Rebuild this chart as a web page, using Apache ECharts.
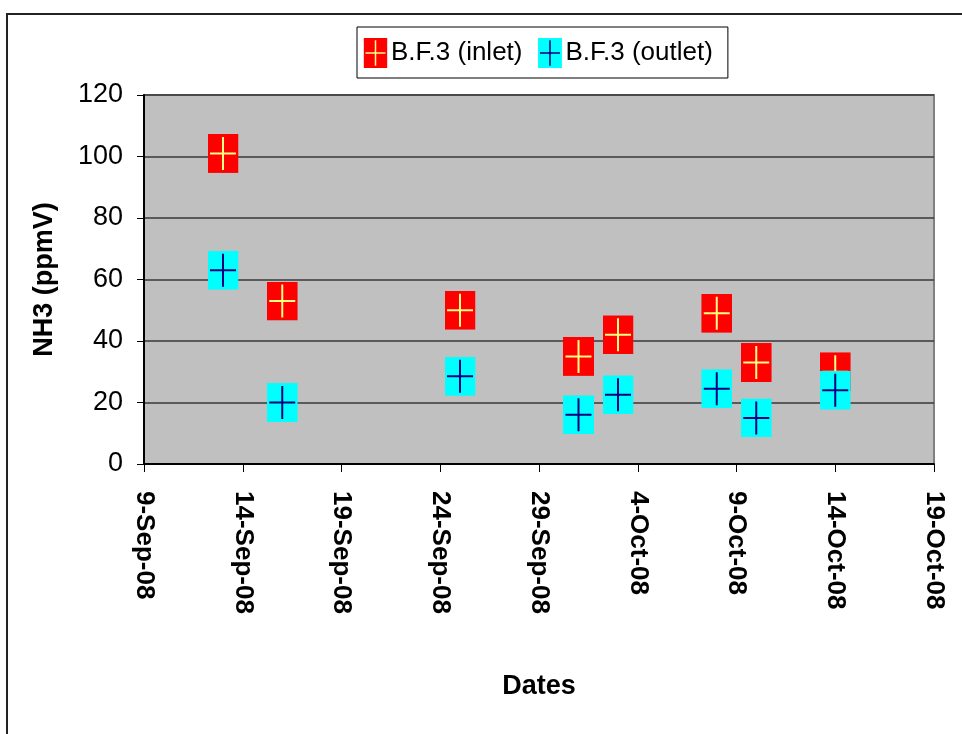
<!DOCTYPE html>
<html>
<head>
<meta charset="utf-8">
<title>NH3 B.F.3</title>
<script src="https://cdn.jsdelivr.net/npm/echarts@6/dist/echarts.min.js"></script>
<style>
  html, body { margin: 0; padding: 0; background: #fff; }
  #chart { width: 962px; height: 734px; }
</style>
</head>
<body>
<div id="chart"></div>
<script>
// Sampling dates and NH3 readings (ppmV)
const sampleDates = ['2008-09-13', '2008-09-16', '2008-09-25', '2008-10-01', '2008-10-03', '2008-10-08', '2008-10-10', '2008-10-14'];
const inletValues = [101, 53, 50, 35, 42, 49, 33, 30];
const outletValues = [63, 20, 28.5, 16, 22.5, 24.5, 15, 24];
const seriesNames = ['B.F.3 (inlet)', 'B.F.3 (outlet)'];
const xRange = ['2008-09-09', '2008-10-19'];
const xStepDays = 5;
const yTicks = [0, 20, 40, 60, 80, 100, 120];
const monthNames = ['Jan', 'Feb', 'Mar', 'Apr', 'May', 'Jun', 'Jul', 'Aug', 'Sep', 'Oct', 'Nov', 'Dec'];

// Spreadsheet-style serial day numbers (days since 1899-12-30)
function serial(iso) {
  const p = iso.split('-').map(Number);
  return Math.round((Date.UTC(p[0], p[1] - 1, p[2]) - Date.UTC(1899, 11, 30)) / 86400000);
}
function fmtSerial(n) {
  const d = new Date(Date.UTC(1899, 11, 30) + n * 86400000);
  const yy = String(d.getUTCFullYear() % 100).padStart(2, '0');
  return d.getUTCDate() + '-' + monthNames[d.getUTCMonth()] + '-' + yy;
}

const FONT = '"Liberation Sans", Arial, sans-serif';

// Marker images: filled box with a cross
function markerSvg(fill, cross) {
  const svg = "<svg xmlns='http://www.w3.org/2000/svg' width='31' height='39' viewBox='0 0 31 39'>" +
    "<rect x='0' y='0' width='31' height='39' fill='" + fill + "'/>" +
    "<path d='M2.5 19.5H28.5M15.5 3V36' stroke='" + cross + "' stroke-width='2' fill='none'/></svg>";
  return 'image://data:image/svg+xml;charset=utf-8,' + encodeURIComponent(svg);
}
const inletIcon = markerSvg('#ff0000', '#ffff80');
const outletIcon = markerSvg('#00ffff', '#000080');

const xMin = serial(xRange[0]);
const xMax = serial(xRange[1]);
const xs = sampleDates.map(serial);

const chart = echarts.init(document.getElementById('chart'), null, { renderer: 'canvas' });
chart.setOption({
  backgroundColor: '#ffffff',
  animation: false,
  graphic: [{
    type: 'rect',
    shape: { x: 7, y: 14, width: 1000, height: 800 },
    style: { fill: 'none', stroke: '#222', lineWidth: 2 },
    z: -1
  }],
  legend: {
    left: 357,
    top: 27,
    orient: 'horizontal',
    padding: [11, 15, 10, 6],
    itemGap: 15,
    itemWidth: 25,
    itemHeight: 30,
    borderColor: '#000',
    borderWidth: 1,
    textStyle: { fontFamily: FONT, fontSize: 26, color: '#000', padding: [0, 0, 0, -2] },
    data: [
      { name: seriesNames[0], icon: inletIcon },
      { name: seriesNames[1], icon: outletIcon }
    ]
  },
  grid: {
    left: 144,
    right: 28,
    top: 95,
    bottom: 270,
    show: true,
    backgroundColor: '#c0c0c0',
    borderColor: '#808080',
    borderWidth: 2
  },
  xAxis: {
    type: 'value',
    min: xMin,
    max: xMax,
    interval: xStepDays,
    name: 'Dates',
    nameLocation: 'middle',
    nameGap: 209,
    nameTextStyle: { fontFamily: FONT, fontSize: 27, fontWeight: 'bold', color: '#000' },
    axisLine: { show: true, lineStyle: { color: '#000', width: 2 } },
    axisTick: { show: true, length: 8, lineStyle: { color: '#000', width: 1 } },
    splitLine: { show: false },
    axisLabel: {
      rotate: -90,
      margin: 27,
      fontFamily: FONT,
      fontSize: 26,
      fontWeight: 'bold',
      color: '#000',
      formatter: v => fmtSerial(v)
    }
  },
  yAxis: {
    type: 'value',
    min: yTicks[0],
    max: yTicks[yTicks.length - 1],
    interval: yTicks[1] - yTicks[0],
    name: 'NH3 (ppmV)',
    nameLocation: 'middle',
    nameGap: 86,
    nameTextStyle: { fontFamily: FONT, fontSize: 27, fontWeight: 'bold', color: '#000' },
    axisLine: { show: true, lineStyle: { color: '#000', width: 2 } },
    axisTick: { show: true, length: 7, lineStyle: { color: '#000', width: 1 } },
    splitLine: { show: true, lineStyle: { color: '#383838', width: 1.5 } },
    axisLabel: {
      margin: 21,
      fontFamily: FONT,
      fontSize: 27,
      color: '#000'
    }
  },
  series: [
    {
      name: seriesNames[0],
      type: 'scatter',
      symbol: inletIcon,
      symbolSize: [31, 39],
      data: xs.map((x, i) => [x, inletValues[i]]),
      itemStyle: { color: '#ff0000', opacity: 1 },
      z: 3
    },
    {
      name: seriesNames[1],
      type: 'scatter',
      symbol: outletIcon,
      symbolSize: [31, 39],
      data: xs.map((x, i) => [x, outletValues[i]]),
      itemStyle: { color: '#00ffff', opacity: 1 },
      z: 4
    }
  ]
});
</script>
</body>
</html>
